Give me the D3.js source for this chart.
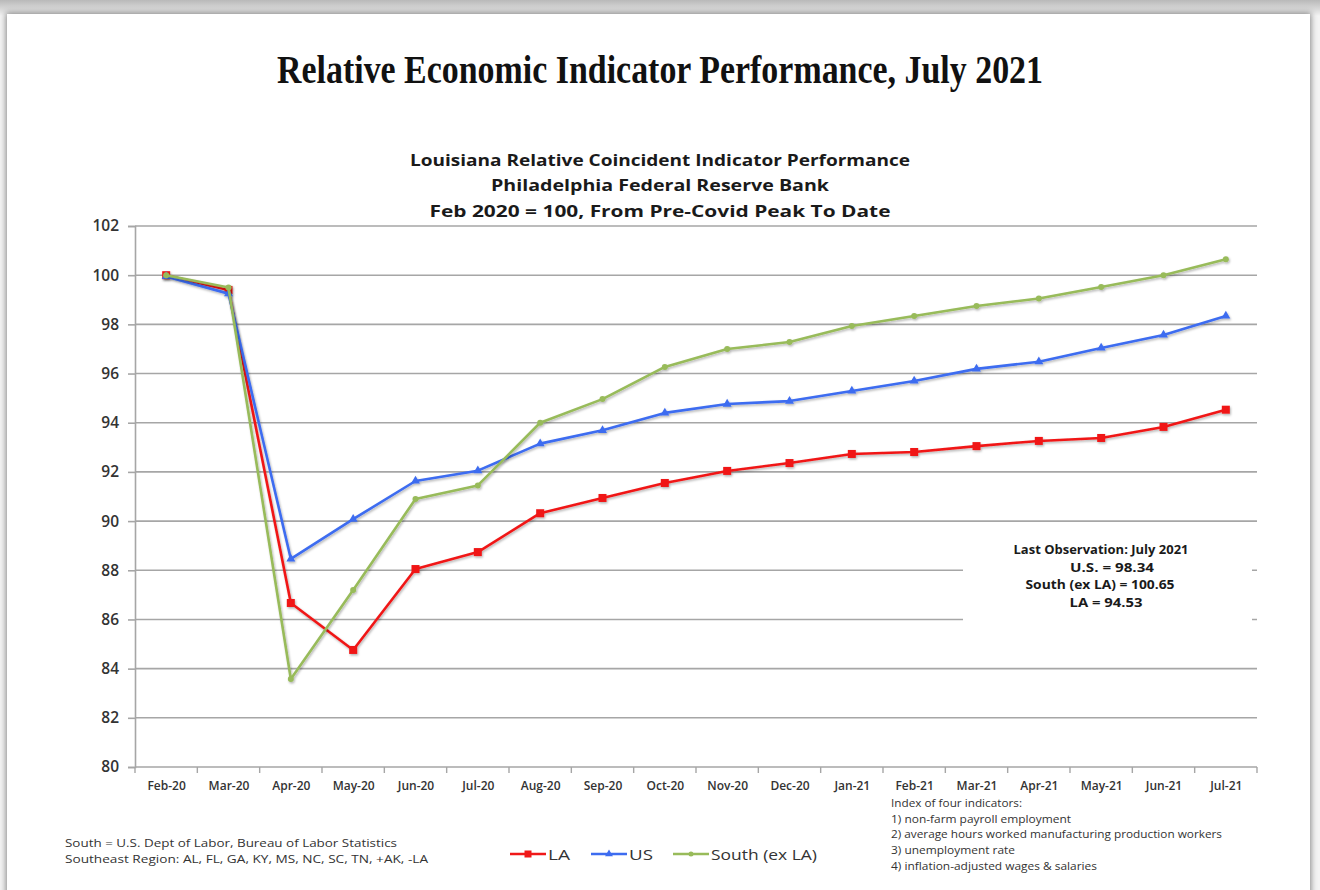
<!DOCTYPE html>
<html>
<head>
<meta charset="utf-8">
<script src="https://cdn.jsdelivr.net/npm/d3@7"></script>
<style>
  html, body { margin: 0; padding: 0; background: #ffffff; }
  body { width: 1320px; height: 890px; overflow: hidden; position: relative;
         background: linear-gradient(#b9b9b9 0px, #dcdcdc 10px, #f4f4f4 16px); }
  #page { position: absolute; left: 7px; top: 14px; width: 1303px; height: 900px; background: #fff;
          box-shadow: 0 0 6px 1px rgba(0,0,0,0.45); }
  svg { position: absolute; left: 0; top: 0; }
</style>
</head>
<body>
<div id="page"></div>
<svg id="chart" width="1320" height="890"></svg>
<script>
const categories = ["Feb-20","Mar-20","Apr-20","May-20","Jun-20","Jul-20","Aug-20","Sep-20","Oct-20","Nov-20","Dec-20","Jan-21","Feb-21","Mar-21","Apr-21","May-21","Jun-21","Jul-21"];
const laValues    = [100.00, 99.40, 86.67, 84.76, 88.05, 88.74, 90.32, 90.94, 91.55, 92.04, 92.36, 92.73, 92.81, 93.05, 93.26, 93.38, 93.83, 94.53];
const usValues    = [99.95, 99.25, 88.46, 90.08, 91.63, 92.05, 93.15, 93.69, 94.40, 94.76, 94.88, 95.29, 95.70, 96.19, 96.48, 97.04, 97.57, 98.34];
const southValues = [100.00, 99.50, 83.58, 87.20, 90.90, 91.45, 94.00, 94.96, 96.27, 97.00, 97.28, 97.93, 98.34, 98.75, 99.05, 99.52, 100.00, 100.65];
const yTicks = [80, 82, 84, 86, 88, 90, 92, 94, 96, 98, 100, 102];
const seriesNames = ["LA", "US", "South (ex LA)"];
const seriesColors = ["#f01818", "#3d6cf0", "#98bb5a"];
const seriesMarkers = ["square", "triangle", "circle"];

const title = "Relative Economic Indicator Performance, July 2021";
const subtitles = ["Louisiana Relative Coincident Indicator Performance", "Philadelphia Federal Reserve Bank", "Feb 2020 = 100, From Pre-Covid Peak To Date"];
const annotation = ["Last Observation: July 2021", "U.S. = 98.34", "South (ex LA) = 100.65", "LA  = 94.53"];
const sourceNotes = ["South = U.S. Dept of Labor, Bureau of Labor Statistics", "Southeast Region: AL, FL, GA, KY, MS, NC, SC, TN, +AK, -LA"];
const indexNotes = ["Index of four indicators:", "1) non-farm payroll employment", "2) average hours worked manufacturing production workers", "3) unemployment rate", "4) inflation-adjusted wages & salaries"];

const svg = d3.select("#chart");
const plotL = 135, plotR = 1257, plotT = 226, plotB = 767;

const x = d3.scalePoint().domain(categories).range([plotL, plotR]).padding(0.5);
const y = d3.scaleLinear().domain([80, 102]).range([plotB, plotT]);
const step = x.step();

// Title
svg.append("text").attr("x", 660).attr("y", 83).attr("text-anchor", "middle")
  .attr("font-family", "Liberation Serif, DejaVu Serif, serif").attr("font-weight", "bold")
  .attr("font-size", 39).attr("fill", "#111")
  .attr("textLength", 766).attr("lengthAdjust", "spacingAndGlyphs").text(title);

// Subtitles
const subY = [166, 191, 217];
const subW = [500, 338, 461];
subtitles.forEach((s, i) => {
  svg.append("text").attr("x", 660).attr("y", subY[i]).attr("text-anchor", "middle")
    .attr("font-family", "Open Sans, Liberation Sans, sans-serif").attr("font-weight", "bold")
    .attr("font-size", 16).attr("fill", "#1a1a1a")
    .attr("textLength", subW[i]).attr("lengthAdjust", "spacingAndGlyphs").text(s);
});

// Gridlines
svg.append("g").selectAll("line").data(yTicks).join("line")
  .attr("x1", plotL).attr("x2", plotR).attr("y1", d => y(d)).attr("y2", d => y(d))
  .attr("stroke", "#a6a6a6").attr("stroke-width", 1.6);

// Y axis
const yAxis = svg.append("g").attr("transform", `translate(${plotL},0)`)
  .call(d3.axisLeft(y).tickValues(yTicks).tickSize(7).tickPadding(9).tickFormat(d3.format("d")));
yAxis.select(".domain").attr("stroke", "#a6a6a6").attr("stroke-width", 1.6);
yAxis.selectAll(".tick line").attr("stroke", "#a6a6a6").attr("stroke-width", 1.6);
yAxis.selectAll(".tick text").attr("font-family", "Open Sans, Liberation Sans, sans-serif")
  .attr("font-size", 15.5).attr("font-weight", 600).attr("fill", "#333");

// X axis
const xAxis = svg.append("g").attr("transform", `translate(0,${plotB})`)
  .call(d3.axisBottom(x).tickSize(0).tickPadding(14));
xAxis.select(".domain").remove();
xAxis.selectAll(".tick text").attr("font-family", "Open Sans, Liberation Sans, sans-serif")
  .attr("font-size", 12).attr("font-weight", 600).attr("fill", "#333");
const bounds = categories.map(c => x(c) - step / 2).concat([x(categories[categories.length - 1]) + step / 2]);
svg.append("g").selectAll("line").data(bounds).join("line")
  .attr("x1", d => d).attr("x2", d => d).attr("y1", plotB).attr("y2", plotB + 6)
  .attr("stroke", "#a6a6a6").attr("stroke-width", 1.4);

// Annotation box (white, covers gridlines)
svg.append("rect").attr("x", 963).attr("y", 533).attr("width", 289).attr("height", 96).attr("fill", "#fff");
const annX = [1101, 1112, 1100, 1106];
const annW = [175, 84, 149, 73];
annotation.forEach((s, i) => {
  svg.append("text").attr("x", annX[i]).attr("y", 554 + i * 17.5).attr("text-anchor", "middle")
    .attr("font-family", "Open Sans, Liberation Sans, sans-serif").attr("font-weight", "bold")
    .attr("font-size", 11.5).attr("fill", "#1a1a1a")
    .attr("textLength", annW[i]).attr("lengthAdjust", "spacingAndGlyphs").text(s);
});

// Series
const allSeries = [laValues, usValues, southValues];
const line = d3.line().x((d, i) => x(categories[i])).y(d => y(d));
const shadow = svg.append("defs").append("filter").attr("id", "sh").attr("x", "-50%").attr("y", "-50%").attr("width", "200%").attr("height", "200%");
shadow.append("feDropShadow").attr("dx", 1).attr("dy", 1.5).attr("stdDeviation", 1.2).attr("flood-color", "#000").attr("flood-opacity", 0.3);

function drawMarker(g, type, cx, cy, color, size) {
  if (type === "square") {
    g.append("rect").attr("x", cx - size / 2).attr("y", cy - size / 2).attr("width", size).attr("height", size).attr("fill", color);
  } else if (type === "triangle") {
    g.append("path").attr("d", d3.symbol(d3.symbolTriangle, size * size * 0.55)()).attr("transform", `translate(${cx},${cy})`).attr("fill", color);
  } else {
    g.append("circle").attr("cx", cx).attr("cy", cy).attr("r", size / 2).attr("fill", color);
  }
}

allSeries.forEach((vals, si) => {
  const g = svg.append("g").attr("filter", "url(#sh)");
  g.append("path").datum(vals).attr("d", line).attr("fill", "none")
    .attr("stroke", seriesColors[si]).attr("stroke-width", 2.6).attr("stroke-linejoin", "round");
  const sizes = [8, 8, 6];
  vals.forEach((v, i) => drawMarker(g, seriesMarkers[si], x(categories[i]), y(v), seriesColors[si], sizes[si]));
});

// Legend
const legX = [510, 591, 673];
const legW = [22, 24, 106];
seriesNames.forEach((n, i) => {
  const g = svg.append("g");
  g.append("line").attr("x1", legX[i]).attr("x2", legX[i] + 36).attr("y1", 854).attr("y2", 854)
    .attr("stroke", seriesColors[i]).attr("stroke-width", 2.6);
  drawMarker(g, seriesMarkers[i], legX[i] + 18, 854, seriesColors[i], [7, 7, 5][i]);
  g.append("text").attr("x", legX[i] + 38).attr("y", 859.5)
    .attr("font-family", "Open Sans, Liberation Sans, sans-serif").attr("font-size", 15).attr("fill", "#333")
    .attr("textLength", legW[i]).attr("lengthAdjust", "spacingAndGlyphs").text(n);
});

// Source notes
const srcW = [332, 363];
sourceNotes.forEach((s, i) => {
  svg.append("text").attr("x", 65).attr("y", 847 + i * 16)
    .attr("font-family", "Open Sans, Liberation Sans, sans-serif").attr("font-size", 11.5).attr("fill", "#333")
    .attr("textLength", srcW[i]).attr("lengthAdjust", "spacingAndGlyphs").text(s);
});

// Index notes
const idxW = [131, 180, 331, 124, 206];
indexNotes.forEach((s, i) => {
  svg.append("text").attr("x", 891).attr("y", 807 + i * 15.7)
    .attr("font-family", "Open Sans, Liberation Sans, sans-serif").attr("font-size", 10).attr("fill", "#333")
    .attr("textLength", idxW[i]).attr("lengthAdjust", "spacingAndGlyphs").text(s);
});
</script>
</body>
</html>
